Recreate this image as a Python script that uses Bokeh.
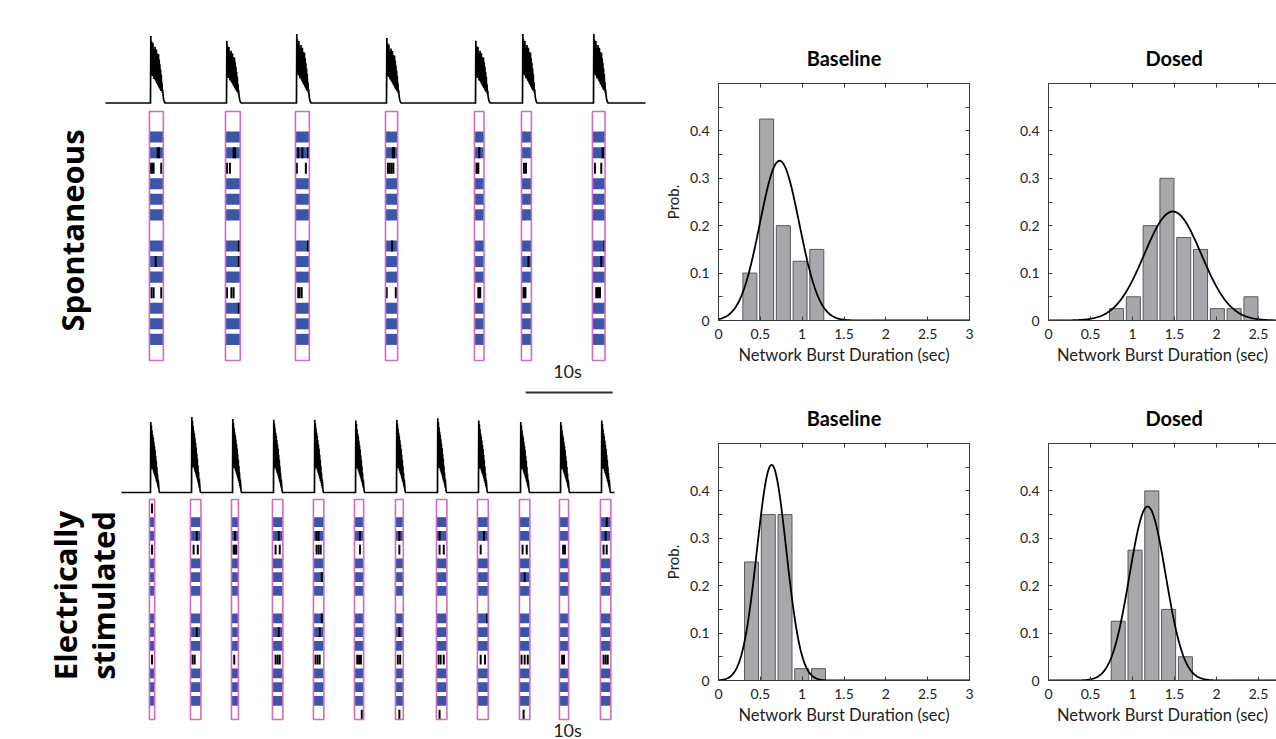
import numpy as np
from bokeh.plotting import figure
from bokeh.layouts import row, column
from bokeh.models import (Range1d, LinearAxis, FixedTicker, CustomJSTickFormatter, Label)
from bokeh.embed import file_html
from bokeh.resources import INLINE

# ---------------- data ----------------
# Spontaneous recording: network-burst onsets (s), relative peak rate, raster window (s)
spont_onsets = [5.17, 13.91, 21.95, 32.30, 42.53, 47.93, 56.09]
spont_peaks = [1.0, 0.93, 1.03, 0.97, 0.93, 1.03, 1.03]
spont_windows = [1.6, 1.7, 1.6, 1.4, 1.1, 1.15, 1.45]
spont_end = 62.07
# Electrically stimulated recording
stim_onsets = [3.33, 8.05, 12.76, 17.47, 22.18, 26.90, 31.61, 36.32, 41.03, 45.86, 50.46, 55.17]
stim_peaks = [0.98, 1.05, 1.02, 1.01, 1.01, 1.0, 1.01, 1.03, 1.0, 0.98, 0.98, 1.0]
stim_windows = [0.6, 1.2, 0.8, 1.2, 1.2, 1.05, 0.9, 1.2, 1.25, 1.2, 1.05, 1.2]
stim_end = 56.67

# population-rate shape of one burst (normalised), sampled every *_dt seconds
spont_shape = [0, 1.0, 0.5, 0.92, 0.42, 0.86, 0.4, 0.9, 0.45, 0.8, 0.36, 0.78, 0.4, 0.84,
               0.34, 0.72, 0.32, 0.8, 0.3, 0.74, 0.28, 0.7, 0.26, 0.73, 0.24, 0.65, 0.22,
               0.58, 0.2, 0.5, 0.18, 0.42, 0.2, 0.3, 0.15, 0.2, 0.12, 0.08, 0.05, 0.03,
               0.02, 0.01, 0]
spont_dt = 0.04
stim_shape = [0, 1.0, 0.4, 0.95, 0.36, 0.88, 0.33, 0.82, 0.34, 0.78, 0.3, 0.72, 0.27,
              0.66, 0.25, 0.6, 0.22, 0.52, 0.19, 0.45, 0.16, 0.36, 0.13, 0.27, 0.09, 0.17,
              0.06, 0.09, 0.03, 0.01, 0]
stim_dt = 0.035

# raster: electrode rows that are active (dense blue) in every burst
raster_rows = 16
active_rows = [1, 2, 4, 5, 6, 8, 9, 10, 12, 13, 14]
# isolated spikes per burst: (row, position within window 0..1)
spont_spikes = [
    [(2, 0.6), (2, 0.68), (3, 0.1), (3, 0.2), (3, 0.3), (3, 0.85), (9, 0.45), (11, 0.15), (11, 0.3), (11, 0.85)],
    [(2, 0.55), (2, 0.65), (3, 0.1), (3, 0.3), (8, 0.9), (9, 0.9), (11, 0.1), (11, 0.4), (11, 0.55), (12, 0.9)],
    [(2, 0.2), (2, 0.5), (2, 0.9), (3, 0.1), (3, 0.75), (8, 0.9), (11, 0.2), (11, 0.3), (11, 0.45)],
    [(2, 0.6), (2, 0.7), (3, 0.2), (3, 0.35), (3, 0.5), (3, 0.65), (8, 0.55), (11, 0.1), (11, 0.85)],
    [(2, 0.5), (3, 0.2), (3, 0.3), (3, 0.4), (11, 0.4), (11, 0.5), (11, 0.6)],
    [(3, 0.25), (3, 0.45), (9, 0.7), (11, 0.2), (11, 0.3), (11, 0.4)],
    [(2, 0.8), (2, 0.9), (3, 0.2), (3, 0.7), (8, 0.95), (9, 0.7), (11, 0.3), (11, 0.4), (11, 0.5), (11, 0.6)],
]
stim_spikes = [
    [(0, 0.5), (3, 0.5), (11, 0.5)],
    [(2, 0.6), (3, 0.3), (3, 0.7), (9, 0.6), (11, 0.2), (11, 0.4)],
    [(2, 0.5), (3, 0.3), (3, 0.5), (3, 0.7), (11, 0.4)],
    [(2, 0.6), (3, 0.3), (3, 0.7), (9, 0.6), (11, 0.3), (11, 0.5), (11, 0.7)],
    [(2, 0.3), (2, 0.5), (3, 0.3), (3, 0.5), (3, 0.7), (5, 0.8), (8, 0.8), (9, 0.6), (11, 0.2), (11, 0.4), (11, 0.6)],
    [(2, 0.6), (3, 0.6), (11, 0.3), (11, 0.5), (11, 0.7), (15, 0.8)],
    [(2, 0.5), (3, 0.5), (9, 0.5), (11, 0.3), (11, 0.6), (15, 0.5)],
    [(2, 0.3), (3, 0.3), (3, 0.7), (11, 0.2), (11, 0.4), (11, 0.7), (15, 0.3)],
    [(2, 0.6), (3, 0.3), (8, 0.9), (11, 0.3), (11, 0.7)],
    [(3, 0.3), (3, 0.7), (5, 0.5), (11, 0.2), (11, 0.5), (11, 0.8), (15, 0.4)],
    [(3, 0.4), (3, 0.6), (11, 0.3), (11, 0.5)],
    [(1, 0.6), (2, 0.5), (3, 0.3), (3, 0.6), (11, 0.3), (11, 0.5), (11, 0.7)],
]

# histograms of network burst duration (sec) -> probability
hist_titles = ["Baseline", "Dosed", "Baseline", "Dosed"]
sp_base_centers = [0.375, 0.575, 0.775, 0.975, 1.175]
sp_base_prob = [0.1, 0.425, 0.2, 0.125, 0.15]
sp_dose_centers = [0.81, 1.01, 1.21, 1.41, 1.61, 1.81, 2.01, 2.21, 2.41]
sp_dose_prob = [0.025, 0.05, 0.2, 0.3, 0.175, 0.15, 0.025, 0.025, 0.05]
st_base_centers = [0.395, 0.595, 0.795, 0.995, 1.195]
st_base_prob = [0.25, 0.35, 0.35, 0.025, 0.025]
st_dose_centers = [0.83, 1.03, 1.23, 1.43, 1.63]
st_dose_prob = [0.125, 0.275, 0.4, 0.15, 0.05]
# fitted normal curves: mean, sd, peak height
fit_mean = [0.73, 1.48, 0.635, 1.18]
fit_sd = [0.236, 0.34, 0.175, 0.215]
fit_peak = [0.337, 0.23, 0.455, 0.367]

x_ticks = [0, 0.5, 1, 1.5, 2, 2.5, 3]
y_ticks = [0, 0.1, 0.2, 0.3, 0.4]
y_minor = [0.05, 0.15, 0.25, 0.35, 0.45]

# ---------------- styles ----------------
BLUE = "#3b56a8"
MAGENTA = "#d06cc8"
BAR_FILL = "#a8a8ac"
BAR_LINE = "#585858"
AX = "#3a3a3a"
TXT = "#222222"
LEFT_W = 660
PX_PER_S = 8.7


def lin_range(page_lo, page_hi, origin, ppu, up=False):
    if up:
        return Range1d(start=(origin - page_hi) / ppu, end=(origin - page_lo) / ppu)
    return Range1d(start=(page_lo - origin) / ppu, end=(page_hi - origin) / ppu)


def raster_panel(top_page, bot_page, t0_page, onsets, peaks, windows, t_end, shape, dt,
                 spikes, base_page, amp_px, rect_top_page, row_px):
    h = bot_page - top_page
    p = figure(width=LEFT_W, height=h, x_range=Range1d(0, LEFT_W),
               y_range=Range1d(start=bot_page, end=top_page),
               x_axis_type=None, y_axis_type=None, output_backend="svg",
               toolbar_location=None, min_border=0, outline_line_color=None)
    p.extra_x_ranges = {"time": lin_range(0, LEFT_W, t0_page, PX_PER_S)}
    p.extra_y_ranges = {
        "trace": lin_range(top_page, bot_page, base_page, amp_px, up=True),
        "raster": Range1d(start=(bot_page - rect_top_page) / row_px,
                          end=(top_page - rect_top_page) / row_px),
    }
    # population firing-rate trace
    tx, ty = [0.0], [0.0]
    for on, pk in zip(onsets, peaks):
        for k, v in enumerate(shape):
            tx.append(on + k * dt)
            ty.append(pk * v)
    tx.append(t_end)
    ty.append(0.0)
    p.line(tx, ty, x_range_name="time", y_range_name="trace", line_color="black",
           line_width=1.7, line_join="miter")

    # raster blocks
    gap = 0.29
    pre = 0.12
    L, R, T, B = [], [], [], []
    sx, sy0, sy1 = [], [], []
    oL, oR = [], []
    for b, (on, win) in enumerate(zip(onsets, windows)):
        left = on - pre
        right = left + win
        oL.append(left)
        oR.append(right)
        for r in active_rows:
            L.append(left); R.append(right); T.append(r + gap); B.append(r + 1.0)
        for (r, f) in spikes[b]:
            xx = left + f * win
            sx.append(xx); sy0.append(r + gap); sy1.append(r + 1.0)
    p.quad(left=L, right=R, top=T, bottom=B, x_range_name="time", y_range_name="raster",
           fill_color=BLUE, line_color=None)
    p.segment(x0=sx, x1=sx, y0=sy0, y1=sy1, x_range_name="time", y_range_name="raster",
              line_color="black", line_width=2)
    p.quad(left=oL, right=oR, top=[0] * len(oL), bottom=[raster_rows] * len(oL),
           x_range_name="time", y_range_name="raster", fill_color=None,
           line_color=MAGENTA, line_width=1.6)
    return p


def side_label(p, x, y, text):
    p.add_layout(Label(x=x, y=y, text=text, angle=np.pi / 2, text_align="center",
                       text_baseline="alphabetic", text_font="Open Sans",
                       text_font_style="bold", text_font_size="31px", text_color="black"))


# ---------------- left panels ----------------
p_sp = raster_panel(0, 400, 105, spont_onsets, spont_peaks, spont_windows, spont_end,
                    spont_shape, spont_dt, spont_spikes, 102.5, 67, 111, 15.56)
side_label(p_sp, 71, 230, "Spontaneous")
scale_start = 48.3
p_sp.segment(x0=[scale_start], x1=[scale_start + 10], y0=[392], y1=[392],
             x_range_name="time", line_color="#333333", line_width=2)
p_sp.add_layout(Label(x=567, y=370, text="10s", text_align="center", text_baseline="middle",
                      text_font="Lato", text_font_size="18px", text_color=TXT))

p_st = raster_panel(400, 739, 121, stim_onsets, stim_peaks, stim_windows, stim_end,
                    stim_shape, stim_dt, stim_spikes, 492, 72, 499, 13.75)
side_label(p_st, 64, 595, "Electrically")
side_label(p_st, 102, 595, "stimulated")
p_st.add_layout(Label(x=567, y=729, text="10s", text_align="center", text_baseline="middle",
                      text_font="Lato", text_font_size="18px", text_color=TXT))


# ---------------- histograms ----------------
def style_axis(ax, labels=True):
    ax.axis_line_color = AX
    ax.major_tick_line_color = AX
    ax.minor_tick_line_color = AX
    ax.major_tick_in = 4
    ax.major_tick_out = 0
    ax.minor_tick_in = 4
    ax.minor_tick_out = 0
    ax.major_label_text_font = "Lato"
    ax.major_label_text_font_size = "14px"
    ax.major_label_text_color = TXT
    ax.axis_label_text_font = "Lato"
    ax.axis_label_text_font_size = "16.5px"
    ax.axis_label_text_font_style = "normal"
    ax.axis_label_text_color = TXT
    if labels:
        ax.formatter = CustomJSTickFormatter(code="return String(tick);")
    else:
        ax.formatter = CustomJSTickFormatter(code="return '';")
        ax.major_label_standoff = 0
        ax.major_label_text_font_size = "1px"


def hist_panel(idx, centers, probs, width, height, mbl, mbr, mbt, mbb, xmax, ylabel, right_box):
    p = figure(width=width, height=height, x_range=Range1d(0, xmax), y_range=Range1d(0, 0.5),
               x_axis_type=None, y_axis_type=None, output_backend="svg",
               toolbar_location=None, min_border_left=mbl, min_border_right=mbr,
               min_border_top=mbt, min_border_bottom=mbb, outline_line_color=None)
    p.title.text = hist_titles[idx]
    p.title.text_font = "Lato"
    p.title.text_font_style = "bold"
    p.title.text_font_size = "20px"
    p.title.text_color = "black"
    p.title.standoff = 28
    if right_box:
        p.title.align = "center"
    else:
        # centre the title on the full 0-3 s axis, part of which lies beyond the page
        p.title.align = "left"
        p.title.offset = 1.5 * 84 - 29
    xb = LinearAxis(ticker=FixedTicker(ticks=x_ticks), axis_label="Network Burst Duration (sec)")
    style_axis(xb)
    xb.major_label_standoff = 8
    xb.axis_label_standoff = 3
    p.add_layout(xb, "below")
    xt = LinearAxis(ticker=FixedTicker(ticks=x_ticks))
    style_axis(xt, labels=False)
    p.add_layout(xt, "above")
    yl = LinearAxis(ticker=FixedTicker(ticks=y_ticks, minor_ticks=y_minor),
                    axis_label=("Prob." if ylabel else None))
    style_axis(yl)
    yl.major_label_standoff = 9
    yl.axis_label_standoff = 5
    yl.axis_label_text_font_size = "15px"
    p.add_layout(yl, "left")
    if right_box:
        yr = LinearAxis(ticker=FixedTicker(ticks=y_ticks, minor_ticks=y_minor))
        style_axis(yr, labels=False)
        p.add_layout(yr, "right")
    p.vbar(x=centers, top=probs, width=0.167, fill_color=BAR_FILL, line_color=BAR_LINE,
           line_width=1)
    xs = np.linspace(0, 3, 301)
    ys = fit_peak[idx] * np.exp(-0.5 * ((xs - fit_mean[idx]) / fit_sd[idx]) ** 2)
    p.line(xs, ys, line_color="black", line_width=1.8)
    return p


DOSED_X = (1276 - 1048) / 84
h1 = hist_panel(0, sp_base_centers, sp_base_prob, 329, 368, 57, 20, 83, 48, 3, True, True)
h2 = hist_panel(1, sp_dose_centers, sp_dose_prob, 287, 368, 59, 0, 83, 48, DOSED_X, False, False)
h3 = hist_panel(2, st_base_centers, st_base_prob, 329, 371, 57, 20, 75, 59, 3, True, True)
h4 = hist_panel(3, st_dose_centers, st_dose_prob, 287, 371, 59, 0, 75, 59, DOSED_X, False, False)

layout = row(column(p_sp, p_st), column(row(h1, h2), row(h3, h4)))

open("out.html", "w").write(file_html(layout, INLINE))
